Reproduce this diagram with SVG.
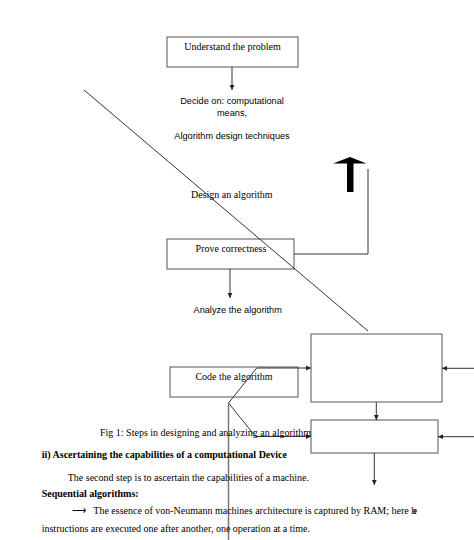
<svg xmlns="http://www.w3.org/2000/svg" width="474" height="540" viewBox="0 0 474 540">
<style>
.box{fill:#fff;stroke:#555;stroke-width:1}
.ln{fill:none;stroke:#333;stroke-width:1}
.serif{font-family:"Liberation Serif","Times New Roman",serif;font-size:10px;fill:#000}
.sans{font-family:"Liberation Sans",Arial,sans-serif;font-size:9.2px;fill:#000}
.b{font-weight:bold}
.mid{text-anchor:middle}
</style>
<defs>
<marker id="ah" markerWidth="6" markerHeight="6" refX="5" refY="3" orient="auto" markerUnits="userSpaceOnUse">
<path d="M0,0.6 L5,3 L0,5.4 Z" fill="#222"/>
</marker>
</defs>
<rect width="474" height="540" fill="#fff"/>
<g id="understand"><rect class="box" x="167" y="37" width="131" height="30"/><text class="serif mid" x="232.5" y="50">Understand the problem</text></g>
<g id="decide"><text class="sans mid" x="232" y="104">Decide on: computational</text><text class="sans mid" x="232" y="116">means,</text><text class="sans mid" x="232" y="139">Algorithm design techniques</text></g>
<g id="design"><text class="serif" x="191" y="197.5">Design an algorithm</text></g>
<g id="prove"><rect class="box" x="167" y="239" width="127" height="30"/><text class="serif mid" x="231" y="252">Prove correctness</text></g>
<g id="analyze"><text class="sans" x="193.5" y="313">Analyze the algorithm</text></g>
<g id="code"><rect class="box" x="170" y="367" width="128" height="30"/><text class="serif mid" x="234" y="380">Code the algorithm</text></g>
<g id="boxA"><rect class="box" x="311" y="334" width="131" height="68"/></g>
<g id="boxB"><rect class="box" x="311" y="420" width="127" height="33"/></g>
<g id="bigarrow"><polygon points="333,163.5 350,157 366.5,163.5" fill="#000"/><rect x="347" y="163" width="6.5" height="29" fill="#000"/></g>
<g id="connectors">
<line class="ln" x1="232" y1="67" x2="232" y2="90" marker-end="url(#ah)"/>
<line class="ln" x1="84" y1="90" x2="368" y2="331"/>
<polyline class="ln" points="294,254 368,254 368,169"/>
<line class="ln" x1="230" y1="269" x2="230" y2="298" marker-end="url(#ah)"/>
<polyline class="ln" points="228.5,403 256.7,368 311,368" marker-end="url(#ah)"/>
<polyline class="ln" points="228.5,403 255.5,436.5 311,436.5" marker-end="url(#ah)"/>
<line x1="228.5" y1="403" x2="228.5" y2="540" stroke="#777" stroke-width="1.5"/>
<line class="ln" x1="376.3" y1="402" x2="376.3" y2="420" marker-end="url(#ah)"/>
<line class="ln" x1="474" y1="368.3" x2="442" y2="368.3" marker-end="url(#ah)"/>
<line class="ln" x1="474" y1="436.7" x2="438" y2="436.7" marker-end="url(#ah)"/>
<line class="ln" x1="374.3" y1="453" x2="374.3" y2="485" marker-end="url(#ah)"/>
</g>
<g id="text">
<text class="serif" x="100" y="435.5">Fig 1: Steps in designing and analyzing an algorithm</text>
<text class="serif b" x="41.7" y="458">ii) Ascertaining the capabilities of a computational Device</text>
<text class="serif" x="67.7" y="480.5">The second step is to ascertain the capabilities of a machine.</text>
<text class="serif b" x="41.7" y="497">Sequential algorithms:</text>
<text class="serif" x="71.5" y="514">⟶</text>
<text class="serif" x="93.3" y="514">The essence of von-Neumann machines architecture is captured by RAM; here <tspan letter-spacing="-3.5">he</tspan></text>
<text class="serif" x="41.7" y="532">instructions are executed one after another, one operation at a time.</text>
</g>
</svg>
